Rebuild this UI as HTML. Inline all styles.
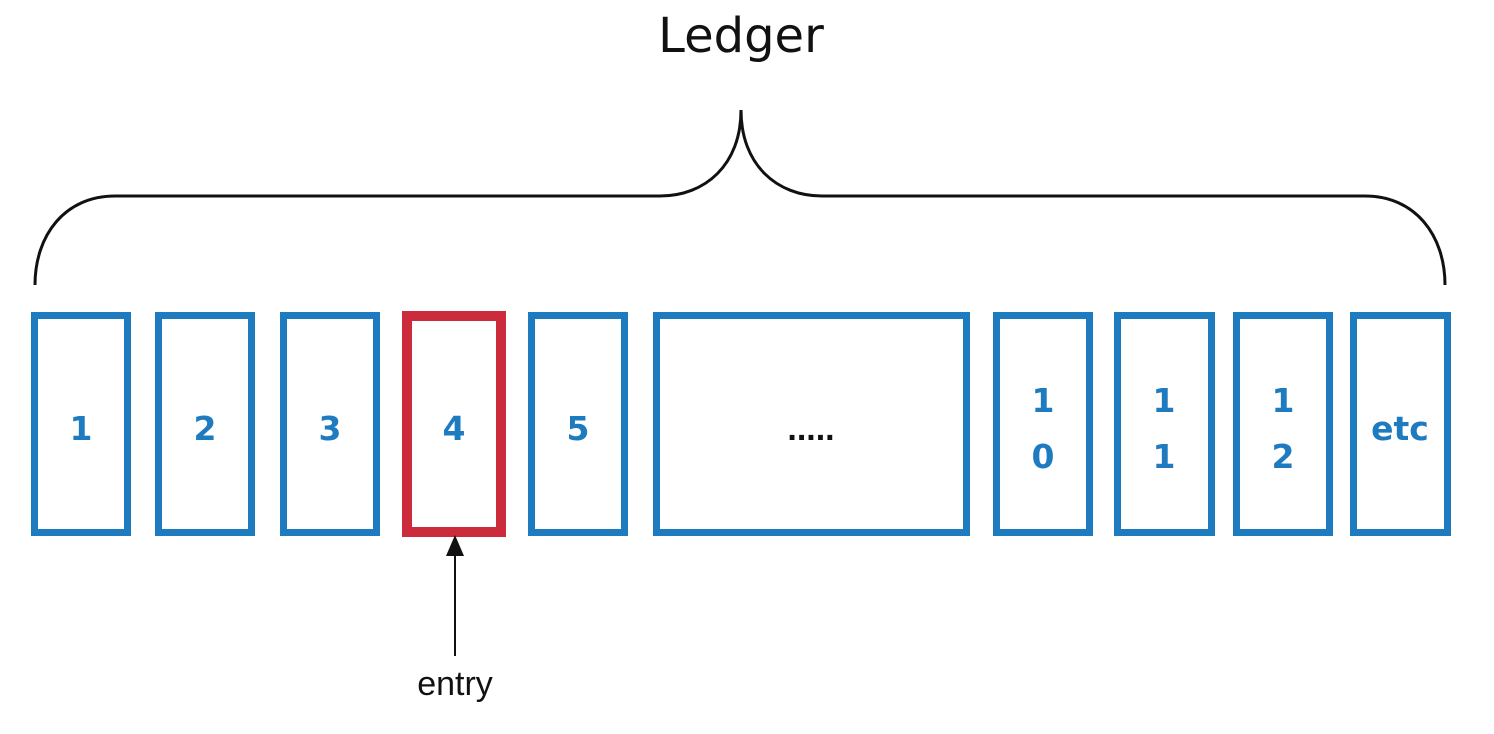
<!DOCTYPE html>
<html><head><meta charset="utf-8"><style>
html,body{margin:0;padding:0;background:#fff;width:1494px;height:734px;overflow:hidden}
svg{display:block}
</style></head><body>
<svg width="1494" height="734" viewBox="0 0 1494 734" xmlns="http://www.w3.org/2000/svg">
<text x="741" y="52" text-anchor="middle" font-family="'DejaVu Sans','Liberation Sans',sans-serif" font-size="48" fill="#111">Ledger</text>
<path d="M35,285 C35,235 65,196 115,196 L660,196 C705,196 741,165 741,110 C741,165 777,196 822,196 L1365,196 C1415,196 1445,235 1445,285" fill="none" stroke="#111" stroke-width="3"/>
<g fill="none" stroke="#1f7bbf" stroke-width="7">
<rect x="34.5" y="315.5" width="93" height="217"/>
<rect x="158.5" y="315.5" width="93" height="217"/>
<rect x="283.5" y="315.5" width="93" height="217"/>
<rect x="531.5" y="315.5" width="93" height="217"/>
<rect x="656.5" y="315.5" width="310" height="217"/>
<rect x="996.5" y="315.5" width="93" height="217"/>
<rect x="1117.5" y="315.5" width="94" height="217"/>
<rect x="1236.5" y="315.5" width="93" height="217"/>
<rect x="1353.5" y="315.5" width="94" height="217"/>
</g>
<rect x="407" y="316" width="94" height="216" fill="none" stroke="#cc2b3b" stroke-width="10"/>
<g font-family="'DejaVu Sans','Liberation Sans',sans-serif" font-weight="bold" font-size="33" fill="#1f7bbf" text-anchor="middle">
<text x="81" y="440">1</text>
<text x="205" y="440">2</text>
<text x="330" y="440">3</text>
<text x="454" y="440">4</text>
<text x="578" y="440">5</text>
<text x="1043" y="412">1</text><text x="1043" y="468">0</text>
<text x="1164" y="412">1</text><text x="1164" y="468">1</text>
<text x="1283" y="412">1</text><text x="1283" y="468">2</text>
<text x="1400" y="440">etc</text>
</g>
<text x="811" y="440" text-anchor="middle" font-family="'Liberation Sans',sans-serif" font-weight="bold" font-size="34" fill="#111">.....</text>
<line x1="455" y1="555" x2="455" y2="656" stroke="#111" stroke-width="2"/>
<polygon points="455,535 446,556 464,556" fill="#111"/>
<text x="455" y="695" text-anchor="middle" font-family="'Liberation Sans',sans-serif" font-size="34" fill="#111">entry</text>
</svg>
</body></html>
